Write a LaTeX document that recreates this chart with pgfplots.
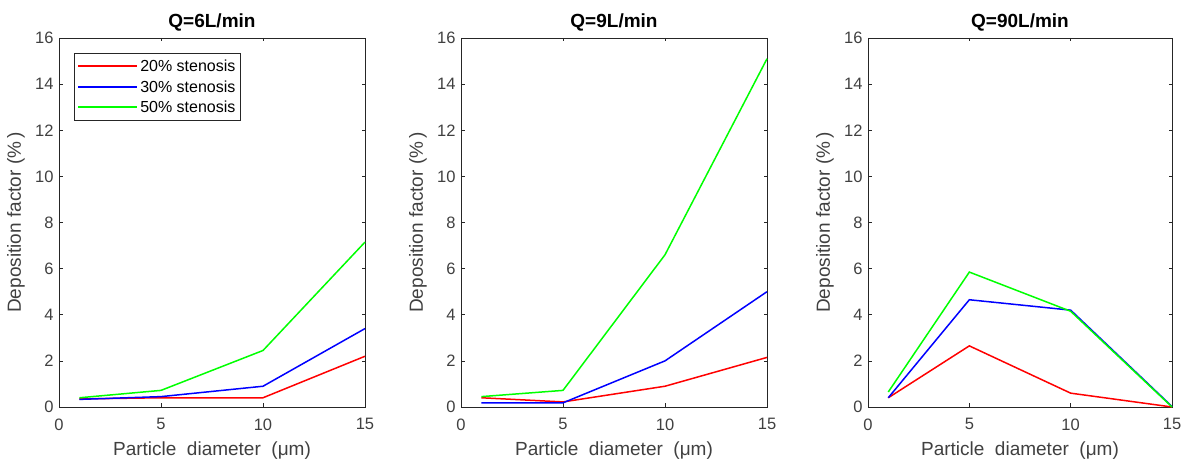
\documentclass[border=0pt]{standalone}
\usepackage{fontspec}
\setmainfont{Liberation Sans}
\usepackage{pgfplots}
\pgfplotsset{compat=1.18}
\definecolor{axgray}{HTML}{262626}
\definecolor{txtgray}{HTML}{404040}
\definecolor{mred}{RGB}{255,0,0}
\definecolor{mblue}{RGB}{0,0,255}
\definecolor{mgreen}{RGB}{0,255,0}
\pgfplotsset{
  panel/.style={
    scale only axis, width=306pt, height=369pt,
    xmin=0, xmax=15, ymin=0, ymax=16,
    xtick={0,5,10,15}, ytick={0,2,...,16},
    tick align=inside, tick pos=both, major tick length=3.5pt,
    axis line style={axgray, line width=0.6pt},
    every tick/.style={axgray, line width=0.6pt},
    tick label style={font=\fontsize{16.5}{19}\selectfont, text=txtgray},
    xticklabel style={yshift=-8pt},
    yticklabel style={xshift=-2pt},
    /pgf/number format/assume math mode=true,
    label style={font=\fontsize{19}{22}\selectfont, text=txtgray},
    xlabel={Particle\ \ diameter\ \ (μm)},
    ylabel={Deposition factor (\%\,)},
    xlabel style={at={([yshift=-44pt]axis description cs:0.5,0)}, anchor=center},
    ylabel style={at={([xshift=-43pt]axis description cs:0,0.5)}, anchor=center},
    title style={at={([yshift=10pt]axis description cs:0.5,1)}, anchor=center,
      font=\bfseries\fontsize{19}{22}\selectfont, text=black},
    clip=false,
    every axis plot/.append style={line width=1.5pt},
    legend image code/.code={\draw[#1, line width=2pt] (0pt,0pt) -- (59pt,0pt);},
    legend cell align=left,
    legend style={at={(axis description cs:0.049,0.959)}, anchor=north west,
      draw=axgray, line width=0.6pt, font=\fontsize{16}{19}\selectfont,
      inner xsep=3pt, inner ysep=4.5pt, row sep=3.4pt},
  }
}
\begin{document}
\begin{tikzpicture}
\path[use as bounding box] (0,0) rectangle (1184pt,462pt);
\begin{axis}[panel, at={(59pt,55pt)}, anchor=south west, title={Q=6L/min}]
\addplot[mred] coordinates {(1,0.35)(5,0.40)(10,0.40)(15,2.20)};
\addlegendentry{20\% stenosis}
\addplot[mblue] coordinates {(1,0.33)(5,0.45)(10,0.90)(15,3.40)};
\addlegendentry{30\% stenosis}
\addplot[mgreen] coordinates {(1,0.40)(5,0.72)(10,2.45)(15,7.15)};
\addlegendentry{50\% stenosis}
\end{axis}
\begin{axis}[panel, at={(461pt,55pt)}, anchor=south west, title={Q=9L/min}]
\addplot[mred] coordinates {(1,0.40)(5,0.22)(10,0.90)(15,2.15)};
\addplot[mblue] coordinates {(1,0.18)(5,0.18)(10,2.00)(15,5.00)};
\addplot[mgreen] coordinates {(1,0.45)(5,0.72)(10,6.60)(15,15.10)};
\end{axis}
\begin{axis}[panel, at={(868pt,55pt)}, anchor=south west, width=304pt, title={Q=90L/min}]
\addplot[mred] coordinates {(1,0.40)(5,2.65)(10,0.60)(15,0.00)};
\addplot[mblue] coordinates {(1,0.40)(5,4.65)(10,4.20)(15,0.02)};
\addplot[mgreen] coordinates {(1,0.65)(5,5.85)(10,4.15)(15,0.00)};
\end{axis}
\end{tikzpicture}
\end{document}
